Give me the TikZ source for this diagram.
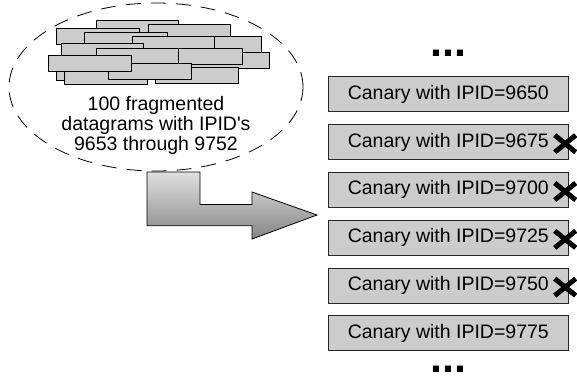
\documentclass[tikz,border=0pt]{standalone}
\usepackage{fontspec}
\setmainfont{Liberation Sans}
\usetikzlibrary{positioning,shapes.geometric}

\begin{document}
\begin{tikzpicture}
  [
  x=1pt, y=-1pt,
  frag/.style={draw, fill=black!20, line width=0.8pt, anchor=north west, minimum width=82.5pt, minimum height=16pt, inner sep=0pt},
  canary/.style={draw=black!85, fill=black!20, line width=0.8pt, minimum width=240pt, minimum height=35pt, inner sep=0pt, font=\fontsize{19.5}{20}\selectfont},
  cloud/.style={draw, ellipse, dash pattern=on 15pt off 10pt, line width=0.8pt, inner sep=0pt},
  bigarrow/.style={draw, line width=0.8pt, top color=black!12, bottom color=black!48},
  xmark/.style={line width=5pt},
  more/.style={font=\fontsize{43}{43}\selectfont\bfseries, inner sep=0pt, anchor=base}
  ]
  \useasboundingbox (0,0) rectangle (577,376);

  % dashed ring round the fragments
  \node[cloud, minimum width=294pt, minimum height=168pt] (pile) at (156,87) {};
  \foreach \fx/\fy [count=\i] in {95.7/20, 56/28.3, 147.5/24, 84/31.7, 178.5/35.7,
      131.7/35.7, 186.5/51.7, 159.2/47.7, 60.7/43.3, 95.7/47.7, 56/63.5, 64/67.5,
      155.2/67.3, 108.3/63.3, 48.3/55.3}
    \node[frag] (frag\i) at (\fx,\fy) {};
  \node[align=center, font=\fontsize{19.5}{20}\selectfont] (pilelabel) at (156,125)
    {100 fragmented\\datagrams with IPID\textquotesingle s\\9653 through 9752};

  % bent arrow
  \draw[bigarrow] (147,172) -- (200,172) -- (200,204.5) -- (252,204.5) -- (252,192)
    -- (317,215) -- (252,239) -- (252,225.7) -- (147,225.7) -- cycle;

  % canaries
  \node[canary] (c1) at (448.3,94.2) {Canary with IPID=9650};
  \node[canary, below=12pt of c1] (c2) {Canary with IPID=9675};
  \node[canary, below=12pt of c2] (c3) {Canary with IPID=9700};
  \node[canary, below=12pt of c3] (c4) {Canary with IPID=9725};
  \node[canary, below=12pt of c4] (c5) {Canary with IPID=9750};
  \node[canary, below=12pt of c5] (c6) {Canary with IPID=9775};
  \node[more] (moretop) at ([yshift=20pt]c1.north) {...};
  \node[more] (morebot) at ([yshift=-21pt]c6.south) {...};

  \foreach \b in {c2,c3,c4,c5} {
    \draw[xmark] ([shift={(-14,-6.8)}]\b.east) -- ++(21,17);
    \draw[xmark] ([shift={(-14,10.2)}]\b.east) -- ++(21,-17);
  }
\end{tikzpicture}
\end{document}
